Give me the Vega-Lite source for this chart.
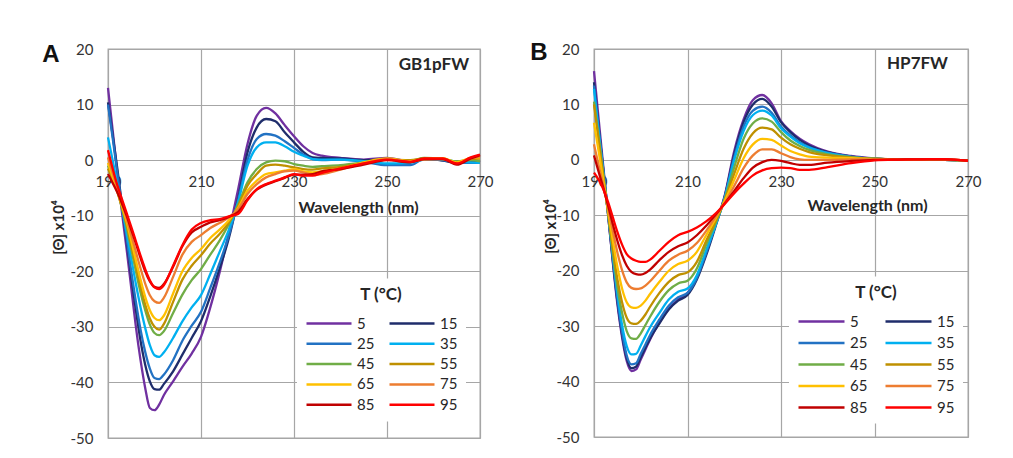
{
"$schema":"https://vega.github.io/schema/vega-lite/v6.json",
"background":"white",
"padding":{"left":41,"top":40,"right":0,"bottom":0},
"config":{"font":"Lato","view":{"stroke":"#a6a6a6","strokeWidth":1.3},"concat":{"spacing":35}},
"resolve":{"scale":{"color":"independent"},"legend":{"color":"independent"}},
"datasets":{
"A":[
{"T":5,"nm":190,"v":13},{"T":5,"nm":191,"v":5.4},{"T":5,"nm":192,"v":-2.2},{"T":5,"nm":193,"v":-9.4},{"T":5,"nm":194,"v":-16},{"T":5,"nm":195,"v":-23},{"T":5,"nm":196,"v":-30},{"T":5,"nm":197,"v":-36},{"T":5,"nm":198,"v":-41},{"T":5,"nm":199,"v":-44.6},{"T":5,"nm":200,"v":-45},{"T":5,"nm":201,"v":-44},{"T":5,"nm":202,"v":-42.3},{"T":5,"nm":204,"v":-39.8},{"T":5,"nm":206,"v":-37.2},{"T":5,"nm":208,"v":-34.8},{"T":5,"nm":210,"v":-31.8},{"T":5,"nm":212,"v":-26.5},{"T":5,"nm":214,"v":-20.2},{"T":5,"nm":216,"v":-13},{"T":5,"nm":218,"v":-5.2},{"T":5,"nm":220,"v":2.9},{"T":5,"nm":222,"v":8},{"T":5,"nm":224,"v":9.4},{"T":5,"nm":226,"v":8.4},{"T":5,"nm":228,"v":6.3},{"T":5,"nm":230,"v":4.3},{"T":5,"nm":232,"v":2.5},{"T":5,"nm":234,"v":1.3},{"T":5,"nm":236,"v":0.8},{"T":5,"nm":240,"v":0.4},{"T":5,"nm":245,"v":0.1},{"T":5,"nm":250,"v":0.4},{"T":5,"nm":255,"v":-0.2},{"T":5,"nm":258,"v":0.3},{"T":5,"nm":262,"v":0},{"T":5,"nm":265,"v":-0.3},{"T":5,"nm":268,"v":-0.1},{"T":5,"nm":270,"v":-0.3},
{"T":15,"nm":190,"v":10.4},{"T":15,"nm":191,"v":4.5},{"T":15,"nm":192,"v":-1.5},{"T":15,"nm":193,"v":-8},{"T":15,"nm":194,"v":-14.5},{"T":15,"nm":195,"v":-21},{"T":15,"nm":196,"v":-27},{"T":15,"nm":197,"v":-32.5},{"T":15,"nm":198,"v":-36.8},{"T":15,"nm":199,"v":-39.8},{"T":15,"nm":200,"v":-41.2},{"T":15,"nm":201,"v":-41.3},{"T":15,"nm":202,"v":-40.3},{"T":15,"nm":204,"v":-38},{"T":15,"nm":206,"v":-35},{"T":15,"nm":208,"v":-32},{"T":15,"nm":210,"v":-29},{"T":15,"nm":212,"v":-24.5},{"T":15,"nm":214,"v":-19.5},{"T":15,"nm":216,"v":-14},{"T":15,"nm":218,"v":-6.8},{"T":15,"nm":220,"v":1.4},{"T":15,"nm":222,"v":5.9},{"T":15,"nm":224,"v":7.4},{"T":15,"nm":226,"v":7},{"T":15,"nm":228,"v":5},{"T":15,"nm":230,"v":3.2},{"T":15,"nm":232,"v":1.5},{"T":15,"nm":234,"v":0.5},{"T":15,"nm":236,"v":0.4},{"T":15,"nm":240,"v":0.3},{"T":15,"nm":245,"v":0},{"T":15,"nm":250,"v":0.1},{"T":15,"nm":255,"v":-0.3},{"T":15,"nm":258,"v":0.3},{"T":15,"nm":262,"v":-0.1},{"T":15,"nm":265,"v":-0.5},{"T":15,"nm":268,"v":-0.2},{"T":15,"nm":270,"v":-0.4},
{"T":25,"nm":190,"v":10},{"T":25,"nm":191,"v":4},{"T":25,"nm":192,"v":-2.3},{"T":25,"nm":193,"v":-8.2},{"T":25,"nm":194,"v":-14},{"T":25,"nm":195,"v":-20},{"T":25,"nm":196,"v":-25.5},{"T":25,"nm":197,"v":-30.5},{"T":25,"nm":198,"v":-34.5},{"T":25,"nm":199,"v":-37.5},{"T":25,"nm":200,"v":-39.2},{"T":25,"nm":201,"v":-39.4},{"T":25,"nm":202,"v":-38.6},{"T":25,"nm":204,"v":-36},{"T":25,"nm":206,"v":-32.5},{"T":25,"nm":208,"v":-29.8},{"T":25,"nm":210,"v":-27.3},{"T":25,"nm":212,"v":-23},{"T":25,"nm":214,"v":-18.5},{"T":25,"nm":216,"v":-13.5},{"T":25,"nm":218,"v":-7.2},{"T":25,"nm":220,"v":0},{"T":25,"nm":222,"v":3.8},{"T":25,"nm":224,"v":4.7},{"T":25,"nm":226,"v":4.4},{"T":25,"nm":228,"v":3.4},{"T":25,"nm":230,"v":2.2},{"T":25,"nm":232,"v":1},{"T":25,"nm":234,"v":0.2},{"T":25,"nm":236,"v":0},{"T":25,"nm":240,"v":0.1},{"T":25,"nm":245,"v":-0.3},{"T":25,"nm":250,"v":-0.9},{"T":25,"nm":255,"v":-0.9},{"T":25,"nm":258,"v":0.2},{"T":25,"nm":262,"v":0},{"T":25,"nm":265,"v":-0.4},{"T":25,"nm":268,"v":-0.5},{"T":25,"nm":270,"v":-0.5},
{"T":35,"nm":190,"v":4.1},{"T":35,"nm":191,"v":0},{"T":35,"nm":192,"v":-4.3},{"T":35,"nm":193,"v":-8.6},{"T":35,"nm":194,"v":-13},{"T":35,"nm":195,"v":-17.7},{"T":35,"nm":196,"v":-22.3},{"T":35,"nm":197,"v":-26.5},{"T":35,"nm":198,"v":-30.2},{"T":35,"nm":199,"v":-33.3},{"T":35,"nm":200,"v":-35.1},{"T":35,"nm":201,"v":-35.4},{"T":35,"nm":202,"v":-34.6},{"T":35,"nm":204,"v":-32},{"T":35,"nm":206,"v":-29},{"T":35,"nm":208,"v":-26.5},{"T":35,"nm":210,"v":-24.3},{"T":35,"nm":212,"v":-20.5},{"T":35,"nm":214,"v":-16.5},{"T":35,"nm":216,"v":-12.5},{"T":35,"nm":218,"v":-7.5},{"T":35,"nm":220,"v":-1},{"T":35,"nm":222,"v":2.3},{"T":35,"nm":224,"v":3.2},{"T":35,"nm":226,"v":3.2},{"T":35,"nm":228,"v":2.5},{"T":35,"nm":230,"v":1.5},{"T":35,"nm":232,"v":0.8},{"T":35,"nm":234,"v":0.2},{"T":35,"nm":236,"v":0.1},{"T":35,"nm":240,"v":0.1},{"T":35,"nm":245,"v":-0.2},{"T":35,"nm":250,"v":-0.6},{"T":35,"nm":255,"v":-0.5},{"T":35,"nm":258,"v":0.1},{"T":35,"nm":262,"v":0.1},{"T":35,"nm":265,"v":-0.3},{"T":35,"nm":268,"v":-0.4},{"T":35,"nm":270,"v":-0.5},
{"T":45,"nm":190,"v":-1},{"T":45,"nm":191,"v":-3.2},{"T":45,"nm":192,"v":-5.5},{"T":45,"nm":193,"v":-8.6},{"T":45,"nm":194,"v":-12},{"T":45,"nm":195,"v":-16},{"T":45,"nm":196,"v":-20},{"T":45,"nm":197,"v":-23.8},{"T":45,"nm":198,"v":-27},{"T":45,"nm":199,"v":-29.6},{"T":45,"nm":200,"v":-31.1},{"T":45,"nm":201,"v":-31.5},{"T":45,"nm":202,"v":-30.8},{"T":45,"nm":204,"v":-27.5},{"T":45,"nm":206,"v":-24.2},{"T":45,"nm":208,"v":-21.6},{"T":45,"nm":210,"v":-19.6},{"T":45,"nm":212,"v":-17},{"T":45,"nm":214,"v":-14.5},{"T":45,"nm":216,"v":-11.5},{"T":45,"nm":218,"v":-8},{"T":45,"nm":220,"v":-4},{"T":45,"nm":222,"v":-1.6},{"T":45,"nm":224,"v":-0.4},{"T":45,"nm":226,"v":-0.1},{"T":45,"nm":228,"v":-0.2},{"T":45,"nm":230,"v":-0.7},{"T":45,"nm":232,"v":-1},{"T":45,"nm":234,"v":-1.2},{"T":45,"nm":236,"v":-1.1},{"T":45,"nm":240,"v":-0.9},{"T":45,"nm":245,"v":-0.4},{"T":45,"nm":250,"v":0.1},{"T":45,"nm":255,"v":-0.1},{"T":45,"nm":258,"v":0.4},{"T":45,"nm":262,"v":0.2},{"T":45,"nm":265,"v":-0.2},{"T":45,"nm":268,"v":0},{"T":45,"nm":270,"v":-0.2},
{"T":55,"nm":190,"v":-1.5},{"T":55,"nm":191,"v":-3.5},{"T":55,"nm":192,"v":-5.7},{"T":55,"nm":193,"v":-8.5},{"T":55,"nm":194,"v":-11.5},{"T":55,"nm":195,"v":-15.2},{"T":55,"nm":196,"v":-19},{"T":55,"nm":197,"v":-22.7},{"T":55,"nm":198,"v":-26},{"T":55,"nm":199,"v":-28.5},{"T":55,"nm":200,"v":-30},{"T":55,"nm":201,"v":-30.5},{"T":55,"nm":202,"v":-29.5},{"T":55,"nm":204,"v":-25.5},{"T":55,"nm":206,"v":-21.5},{"T":55,"nm":208,"v":-19},{"T":55,"nm":210,"v":-17.1},{"T":55,"nm":212,"v":-15},{"T":55,"nm":214,"v":-13.3},{"T":55,"nm":216,"v":-11.2},{"T":55,"nm":218,"v":-8.3},{"T":55,"nm":220,"v":-4.6},{"T":55,"nm":222,"v":-2.5},{"T":55,"nm":224,"v":-1},{"T":55,"nm":226,"v":-0.8},{"T":55,"nm":228,"v":-1},{"T":55,"nm":230,"v":-1.3},{"T":55,"nm":232,"v":-1.6},{"T":55,"nm":234,"v":-1.7},{"T":55,"nm":236,"v":-1.5},{"T":55,"nm":240,"v":-1.2},{"T":55,"nm":245,"v":-0.5},{"T":55,"nm":250,"v":0.1},{"T":55,"nm":255,"v":0},{"T":55,"nm":258,"v":0.3},{"T":55,"nm":262,"v":0.3},{"T":55,"nm":265,"v":-0.5},{"T":55,"nm":268,"v":0.2},{"T":55,"nm":270,"v":0.3},
{"T":65,"nm":190,"v":-0.5},{"T":65,"nm":191,"v":-3},{"T":65,"nm":192,"v":-5.5},{"T":65,"nm":193,"v":-8.2},{"T":65,"nm":194,"v":-11},{"T":65,"nm":195,"v":-14.5},{"T":65,"nm":196,"v":-18},{"T":65,"nm":197,"v":-21.5},{"T":65,"nm":198,"v":-24.6},{"T":65,"nm":199,"v":-27},{"T":65,"nm":200,"v":-28.4},{"T":65,"nm":201,"v":-28.8},{"T":65,"nm":202,"v":-28},{"T":65,"nm":204,"v":-24},{"T":65,"nm":206,"v":-20},{"T":65,"nm":208,"v":-17.6},{"T":65,"nm":210,"v":-16},{"T":65,"nm":212,"v":-14},{"T":65,"nm":214,"v":-12.5},{"T":65,"nm":216,"v":-10.8},{"T":65,"nm":218,"v":-8.6},{"T":65,"nm":220,"v":-5.5},{"T":65,"nm":222,"v":-3.7},{"T":65,"nm":224,"v":-2.5},{"T":65,"nm":226,"v":-2.2},{"T":65,"nm":228,"v":-1.9},{"T":65,"nm":230,"v":-1.6},{"T":65,"nm":232,"v":-2},{"T":65,"nm":234,"v":-2.2},{"T":65,"nm":236,"v":-2},{"T":65,"nm":240,"v":-1.5},{"T":65,"nm":245,"v":-0.4},{"T":65,"nm":250,"v":0.3},{"T":65,"nm":255,"v":-0.2},{"T":65,"nm":258,"v":0.2},{"T":65,"nm":262,"v":0.3},{"T":65,"nm":265,"v":-0.4},{"T":65,"nm":268,"v":0.4},{"T":65,"nm":270,"v":0.5},
{"T":75,"nm":190,"v":0.5},{"T":75,"nm":191,"v":-2.3},{"T":75,"nm":192,"v":-5},{"T":75,"nm":193,"v":-7.7},{"T":75,"nm":194,"v":-10.5},{"T":75,"nm":195,"v":-13.5},{"T":75,"nm":196,"v":-16.5},{"T":75,"nm":197,"v":-19.5},{"T":75,"nm":198,"v":-22.2},{"T":75,"nm":199,"v":-24.3},{"T":75,"nm":200,"v":-25.4},{"T":75,"nm":201,"v":-25.7},{"T":75,"nm":202,"v":-24.8},{"T":75,"nm":204,"v":-21},{"T":75,"nm":206,"v":-17},{"T":75,"nm":208,"v":-14.7},{"T":75,"nm":210,"v":-13.5},{"T":75,"nm":212,"v":-12.2},{"T":75,"nm":214,"v":-11.3},{"T":75,"nm":216,"v":-10.3},{"T":75,"nm":218,"v":-8.8},{"T":75,"nm":220,"v":-6.1},{"T":75,"nm":222,"v":-4.3},{"T":75,"nm":224,"v":-3.1},{"T":75,"nm":226,"v":-2.5},{"T":75,"nm":228,"v":-2},{"T":75,"nm":230,"v":-1.9},{"T":75,"nm":232,"v":-2.2},{"T":75,"nm":234,"v":-2.6},{"T":75,"nm":236,"v":-2.5},{"T":75,"nm":240,"v":-1.7},{"T":75,"nm":245,"v":-0.6},{"T":75,"nm":250,"v":0.2},{"T":75,"nm":255,"v":-0.3},{"T":75,"nm":258,"v":0.1},{"T":75,"nm":262,"v":0.2},{"T":75,"nm":265,"v":-0.6},{"T":75,"nm":268,"v":0.3},{"T":75,"nm":270,"v":0.7},
{"T":85,"nm":190,"v":-2.5},{"T":85,"nm":191,"v":-4.1},{"T":85,"nm":192,"v":-5.8},{"T":85,"nm":193,"v":-7.8},{"T":85,"nm":194,"v":-10},{"T":85,"nm":195,"v":-12.5},{"T":85,"nm":196,"v":-15},{"T":85,"nm":197,"v":-17.6},{"T":85,"nm":198,"v":-20},{"T":85,"nm":199,"v":-21.8},{"T":85,"nm":200,"v":-22.8},{"T":85,"nm":201,"v":-23},{"T":85,"nm":202,"v":-22.3},{"T":85,"nm":204,"v":-19.2},{"T":85,"nm":206,"v":-15.5},{"T":85,"nm":208,"v":-13},{"T":85,"nm":210,"v":-12},{"T":85,"nm":212,"v":-11.2},{"T":85,"nm":214,"v":-10.8},{"T":85,"nm":216,"v":-10.2},{"T":85,"nm":218,"v":-9.3},{"T":85,"nm":220,"v":-7},{"T":85,"nm":222,"v":-5.3},{"T":85,"nm":224,"v":-4.4},{"T":85,"nm":226,"v":-3.8},{"T":85,"nm":228,"v":-3.2},{"T":85,"nm":230,"v":-2.6},{"T":85,"nm":232,"v":-2.6},{"T":85,"nm":234,"v":-2.5},{"T":85,"nm":236,"v":-2},{"T":85,"nm":240,"v":-1.6},{"T":85,"nm":245,"v":-0.8},{"T":85,"nm":250,"v":0},{"T":85,"nm":255,"v":-0.4},{"T":85,"nm":258,"v":0.2},{"T":85,"nm":262,"v":0.2},{"T":85,"nm":265,"v":-0.8},{"T":85,"nm":268,"v":0.3},{"T":85,"nm":270,"v":0.9},
{"T":95,"nm":190,"v":1.8},{"T":95,"nm":191,"v":-1.5},{"T":95,"nm":192,"v":-4.5},{"T":95,"nm":193,"v":-7},{"T":95,"nm":194,"v":-9.5},{"T":95,"nm":195,"v":-12},{"T":95,"nm":196,"v":-14.6},{"T":95,"nm":197,"v":-17.2},{"T":95,"nm":198,"v":-19.6},{"T":95,"nm":199,"v":-21.6},{"T":95,"nm":200,"v":-22.9},{"T":95,"nm":201,"v":-23.2},{"T":95,"nm":202,"v":-22.5},{"T":95,"nm":204,"v":-19},{"T":95,"nm":206,"v":-15.3},{"T":95,"nm":208,"v":-12.5},{"T":95,"nm":210,"v":-11.3},{"T":95,"nm":212,"v":-10.8},{"T":95,"nm":214,"v":-10.6},{"T":95,"nm":216,"v":-10.1},{"T":95,"nm":218,"v":-9.7},{"T":95,"nm":220,"v":-7.2},{"T":95,"nm":222,"v":-5.2},{"T":95,"nm":224,"v":-4.3},{"T":95,"nm":226,"v":-3.7},{"T":95,"nm":228,"v":-3.1},{"T":95,"nm":230,"v":-2.5},{"T":95,"nm":232,"v":-2.8},{"T":95,"nm":234,"v":-2.8},{"T":95,"nm":236,"v":-2.3},{"T":95,"nm":240,"v":-1.5},{"T":95,"nm":245,"v":-0.6},{"T":95,"nm":250,"v":0.1},{"T":95,"nm":255,"v":-0.3},{"T":95,"nm":258,"v":0.3},{"T":95,"nm":262,"v":0.3},{"T":95,"nm":265,"v":-0.6},{"T":95,"nm":268,"v":0.5},{"T":95,"nm":270,"v":1}
],
"B":[
{"T":5,"nm":190,"v":16},{"T":5,"nm":191,"v":7.3},{"T":5,"nm":192,"v":-1.3},{"T":5,"nm":193,"v":-9.8},{"T":5,"nm":194,"v":-18.3},{"T":5,"nm":195,"v":-26},{"T":5,"nm":196,"v":-32},{"T":5,"nm":197,"v":-36.3},{"T":5,"nm":198,"v":-38.1},{"T":5,"nm":199,"v":-37.8},{"T":5,"nm":200,"v":-36},{"T":5,"nm":201,"v":-34.2},{"T":5,"nm":202,"v":-32.4},{"T":5,"nm":204,"v":-29.3},{"T":5,"nm":206,"v":-26.8},{"T":5,"nm":208,"v":-25.2},{"T":5,"nm":210,"v":-24},{"T":5,"nm":212,"v":-21.2},{"T":5,"nm":214,"v":-16.8},{"T":5,"nm":216,"v":-11.7},{"T":5,"nm":218,"v":-6.3},{"T":5,"nm":220,"v":1.6},{"T":5,"nm":222,"v":7.3},{"T":5,"nm":224,"v":10.8},{"T":5,"nm":226,"v":11.7},{"T":5,"nm":228,"v":10.2},{"T":5,"nm":230,"v":7},{"T":5,"nm":232,"v":5.2},{"T":5,"nm":234,"v":3.8},{"T":5,"nm":236,"v":2.8},{"T":5,"nm":240,"v":1.5},{"T":5,"nm":245,"v":0.7},{"T":5,"nm":250,"v":0.25},{"T":5,"nm":255,"v":0.05},{"T":5,"nm":260,"v":0},{"T":5,"nm":265,"v":0},{"T":5,"nm":270,"v":-0.1},
{"T":15,"nm":190,"v":14},{"T":15,"nm":191,"v":5.8},{"T":15,"nm":192,"v":-1.8},{"T":15,"nm":193,"v":-9.8},{"T":15,"nm":194,"v":-18},{"T":15,"nm":195,"v":-25.5},{"T":15,"nm":196,"v":-31.5},{"T":15,"nm":197,"v":-35.8},{"T":15,"nm":198,"v":-37.6},{"T":15,"nm":199,"v":-37.3},{"T":15,"nm":200,"v":-35.6},{"T":15,"nm":201,"v":-33.9},{"T":15,"nm":202,"v":-32.2},{"T":15,"nm":204,"v":-29.5},{"T":15,"nm":206,"v":-27},{"T":15,"nm":208,"v":-25.4},{"T":15,"nm":210,"v":-24.4},{"T":15,"nm":212,"v":-21.6},{"T":15,"nm":214,"v":-17.2},{"T":15,"nm":216,"v":-12},{"T":15,"nm":218,"v":-6.5},{"T":15,"nm":220,"v":1},{"T":15,"nm":222,"v":6.8},{"T":15,"nm":224,"v":10},{"T":15,"nm":226,"v":11},{"T":15,"nm":228,"v":9.6},{"T":15,"nm":230,"v":6.8},{"T":15,"nm":232,"v":5},{"T":15,"nm":234,"v":3.6},{"T":15,"nm":236,"v":2.6},{"T":15,"nm":240,"v":1.4},{"T":15,"nm":245,"v":0.6},{"T":15,"nm":250,"v":0.2},{"T":15,"nm":255,"v":0.05},{"T":15,"nm":260,"v":0},{"T":15,"nm":265,"v":0},{"T":15,"nm":270,"v":-0.1},
{"T":25,"nm":190,"v":13.4},{"T":25,"nm":191,"v":5.5},{"T":25,"nm":192,"v":-2},{"T":25,"nm":193,"v":-9.5},{"T":25,"nm":194,"v":-17.5},{"T":25,"nm":195,"v":-25},{"T":25,"nm":196,"v":-31},{"T":25,"nm":197,"v":-35.3},{"T":25,"nm":198,"v":-36.9},{"T":25,"nm":199,"v":-36.7},{"T":25,"nm":200,"v":-35},{"T":25,"nm":201,"v":-33.3},{"T":25,"nm":202,"v":-31.6},{"T":25,"nm":204,"v":-28.8},{"T":25,"nm":206,"v":-26.3},{"T":25,"nm":208,"v":-24.8},{"T":25,"nm":210,"v":-24},{"T":25,"nm":212,"v":-21.3},{"T":25,"nm":214,"v":-16.8},{"T":25,"nm":216,"v":-11.8},{"T":25,"nm":218,"v":-6.6},{"T":25,"nm":220,"v":0.5},{"T":25,"nm":222,"v":6},{"T":25,"nm":224,"v":8.9},{"T":25,"nm":226,"v":9.6},{"T":25,"nm":228,"v":8.5},{"T":25,"nm":230,"v":6},{"T":25,"nm":232,"v":4.4},{"T":25,"nm":234,"v":3.2},{"T":25,"nm":236,"v":2.3},{"T":25,"nm":240,"v":1.3},{"T":25,"nm":245,"v":0.6},{"T":25,"nm":250,"v":0.2},{"T":25,"nm":255,"v":0.05},{"T":25,"nm":260,"v":0},{"T":25,"nm":265,"v":0},{"T":25,"nm":270,"v":-0.1},
{"T":35,"nm":190,"v":12.8},{"T":35,"nm":191,"v":5},{"T":35,"nm":192,"v":-2.3},{"T":35,"nm":193,"v":-9.5},{"T":35,"nm":194,"v":-17},{"T":35,"nm":195,"v":-24},{"T":35,"nm":196,"v":-29.8},{"T":35,"nm":197,"v":-33.6},{"T":35,"nm":198,"v":-35.1},{"T":35,"nm":199,"v":-35},{"T":35,"nm":200,"v":-33.5},{"T":35,"nm":201,"v":-31.8},{"T":35,"nm":202,"v":-30.2},{"T":35,"nm":204,"v":-27.6},{"T":35,"nm":206,"v":-25.2},{"T":35,"nm":208,"v":-23.8},{"T":35,"nm":210,"v":-23.2},{"T":35,"nm":212,"v":-20.8},{"T":35,"nm":214,"v":-16.3},{"T":35,"nm":216,"v":-11.8},{"T":35,"nm":218,"v":-6.8},{"T":35,"nm":220,"v":0},{"T":35,"nm":222,"v":5.2},{"T":35,"nm":224,"v":8.1},{"T":35,"nm":226,"v":8.9},{"T":35,"nm":228,"v":8},{"T":35,"nm":230,"v":5.7},{"T":35,"nm":232,"v":4.2},{"T":35,"nm":234,"v":3},{"T":35,"nm":236,"v":2.2},{"T":35,"nm":240,"v":1.2},{"T":35,"nm":245,"v":0.5},{"T":35,"nm":250,"v":0.2},{"T":35,"nm":255,"v":0.05},{"T":35,"nm":260,"v":0},{"T":35,"nm":265,"v":0},{"T":35,"nm":270,"v":-0.1},
{"T":45,"nm":190,"v":10.5},{"T":45,"nm":191,"v":4},{"T":45,"nm":192,"v":-2.8},{"T":45,"nm":193,"v":-9.6},{"T":45,"nm":194,"v":-16.5},{"T":45,"nm":195,"v":-22.8},{"T":45,"nm":196,"v":-27.6},{"T":45,"nm":197,"v":-30.9},{"T":45,"nm":198,"v":-32.2},{"T":45,"nm":199,"v":-32.3},{"T":45,"nm":200,"v":-31.3},{"T":45,"nm":201,"v":-29.8},{"T":45,"nm":202,"v":-28.3},{"T":45,"nm":204,"v":-25.6},{"T":45,"nm":206,"v":-23.5},{"T":45,"nm":208,"v":-22.3},{"T":45,"nm":210,"v":-21.8},{"T":45,"nm":212,"v":-19.6},{"T":45,"nm":214,"v":-15.3},{"T":45,"nm":216,"v":-11.4},{"T":45,"nm":218,"v":-7},{"T":45,"nm":220,"v":-1.3},{"T":45,"nm":222,"v":3.8},{"T":45,"nm":224,"v":6.6},{"T":45,"nm":226,"v":7.5},{"T":45,"nm":228,"v":6.9},{"T":45,"nm":230,"v":5},{"T":45,"nm":232,"v":3.5},{"T":45,"nm":234,"v":2.5},{"T":45,"nm":236,"v":1.8},{"T":45,"nm":240,"v":1},{"T":45,"nm":245,"v":0.5},{"T":45,"nm":250,"v":0.2},{"T":45,"nm":255,"v":0.05},{"T":45,"nm":260,"v":0},{"T":45,"nm":265,"v":0},{"T":45,"nm":270,"v":-0.1},
{"T":55,"nm":190,"v":10},{"T":55,"nm":191,"v":3.5},{"T":55,"nm":192,"v":-3},{"T":55,"nm":193,"v":-9.4},{"T":55,"nm":194,"v":-15.8},{"T":55,"nm":195,"v":-21.5},{"T":55,"nm":196,"v":-25.7},{"T":55,"nm":197,"v":-28.5},{"T":55,"nm":198,"v":-29.5},{"T":55,"nm":199,"v":-29.6},{"T":55,"nm":200,"v":-29},{"T":55,"nm":201,"v":-27.9},{"T":55,"nm":202,"v":-26.5},{"T":55,"nm":204,"v":-24},{"T":55,"nm":206,"v":-22},{"T":55,"nm":208,"v":-20.8},{"T":55,"nm":210,"v":-20.3},{"T":55,"nm":212,"v":-18.4},{"T":55,"nm":214,"v":-14.6},{"T":55,"nm":216,"v":-11.1},{"T":55,"nm":218,"v":-7.2},{"T":55,"nm":220,"v":-2.5},{"T":55,"nm":222,"v":2},{"T":55,"nm":224,"v":4.8},{"T":55,"nm":226,"v":5.8},{"T":55,"nm":228,"v":5.5},{"T":55,"nm":230,"v":4},{"T":55,"nm":232,"v":2.8},{"T":55,"nm":234,"v":2},{"T":55,"nm":236,"v":1.4},{"T":55,"nm":240,"v":0.8},{"T":55,"nm":245,"v":0.4},{"T":55,"nm":250,"v":0.2},{"T":55,"nm":255,"v":0.05},{"T":55,"nm":260,"v":0},{"T":55,"nm":265,"v":0},{"T":55,"nm":270,"v":-0.1},
{"T":65,"nm":190,"v":6.7},{"T":65,"nm":191,"v":1.5},{"T":65,"nm":192,"v":-3.8},{"T":65,"nm":193,"v":-9},{"T":65,"nm":194,"v":-14.4},{"T":65,"nm":195,"v":-19.3},{"T":65,"nm":196,"v":-23.2},{"T":65,"nm":197,"v":-25.7},{"T":65,"nm":198,"v":-26.6},{"T":65,"nm":199,"v":-26.7},{"T":65,"nm":200,"v":-26.3},{"T":65,"nm":201,"v":-25.4},{"T":65,"nm":202,"v":-24.2},{"T":65,"nm":204,"v":-22},{"T":65,"nm":206,"v":-20},{"T":65,"nm":208,"v":-18.8},{"T":65,"nm":210,"v":-18.2},{"T":65,"nm":212,"v":-16.6},{"T":65,"nm":214,"v":-13.6},{"T":65,"nm":216,"v":-10.6},{"T":65,"nm":218,"v":-7.4},{"T":65,"nm":220,"v":-3.6},{"T":65,"nm":222,"v":0.3},{"T":65,"nm":224,"v":2.8},{"T":65,"nm":226,"v":3.8},{"T":65,"nm":228,"v":3.6},{"T":65,"nm":230,"v":2.6},{"T":65,"nm":232,"v":1.6},{"T":65,"nm":234,"v":1},{"T":65,"nm":236,"v":0.6},{"T":65,"nm":240,"v":0.4},{"T":65,"nm":245,"v":0.3},{"T":65,"nm":250,"v":0.1},{"T":65,"nm":255,"v":0.05},{"T":65,"nm":260,"v":0},{"T":65,"nm":265,"v":0.05},{"T":65,"nm":270,"v":-0.1},
{"T":75,"nm":190,"v":2.8},{"T":75,"nm":191,"v":-1},{"T":75,"nm":192,"v":-4.6},{"T":75,"nm":193,"v":-8.6},{"T":75,"nm":194,"v":-12.8},{"T":75,"nm":195,"v":-16.7},{"T":75,"nm":196,"v":-19.9},{"T":75,"nm":197,"v":-22.1},{"T":75,"nm":198,"v":-23.1},{"T":75,"nm":199,"v":-23.3},{"T":75,"nm":200,"v":-23.2},{"T":75,"nm":201,"v":-22.7},{"T":75,"nm":202,"v":-21.9},{"T":75,"nm":204,"v":-20},{"T":75,"nm":206,"v":-18.2},{"T":75,"nm":208,"v":-17.1},{"T":75,"nm":210,"v":-16.4},{"T":75,"nm":212,"v":-15},{"T":75,"nm":214,"v":-12.8},{"T":75,"nm":216,"v":-10.3},{"T":75,"nm":218,"v":-7.7},{"T":75,"nm":220,"v":-4.7},{"T":75,"nm":222,"v":-1.5},{"T":75,"nm":224,"v":0.8},{"T":75,"nm":226,"v":1.9},{"T":75,"nm":228,"v":1.9},{"T":75,"nm":230,"v":1.2},{"T":75,"nm":232,"v":0.5},{"T":75,"nm":234,"v":0.1},{"T":75,"nm":236,"v":0},{"T":75,"nm":240,"v":0},{"T":75,"nm":245,"v":0.1},{"T":75,"nm":250,"v":0.1},{"T":75,"nm":255,"v":0.05},{"T":75,"nm":260,"v":0.05},{"T":75,"nm":265,"v":0.05},{"T":75,"nm":270,"v":-0.1},
{"T":85,"nm":190,"v":0.8},{"T":85,"nm":191,"v":-2.2},{"T":85,"nm":192,"v":-5.1},{"T":85,"nm":193,"v":-8.2},{"T":85,"nm":194,"v":-11.5},{"T":85,"nm":195,"v":-14.6},{"T":85,"nm":196,"v":-17.2},{"T":85,"nm":197,"v":-19.1},{"T":85,"nm":198,"v":-20.2},{"T":85,"nm":199,"v":-20.6},{"T":85,"nm":200,"v":-20.7},{"T":85,"nm":201,"v":-20.4},{"T":85,"nm":202,"v":-19.8},{"T":85,"nm":204,"v":-18.1},{"T":85,"nm":206,"v":-16.6},{"T":85,"nm":208,"v":-15.6},{"T":85,"nm":210,"v":-14.9},{"T":85,"nm":212,"v":-13.6},{"T":85,"nm":214,"v":-11.9},{"T":85,"nm":216,"v":-9.9},{"T":85,"nm":218,"v":-7.8},{"T":85,"nm":220,"v":-5.6},{"T":85,"nm":222,"v":-3.3},{"T":85,"nm":224,"v":-1.4},{"T":85,"nm":226,"v":-0.4},{"T":85,"nm":228,"v":0},{"T":85,"nm":230,"v":-0.2},{"T":85,"nm":232,"v":-0.6},{"T":85,"nm":234,"v":-0.9},{"T":85,"nm":236,"v":-0.9},{"T":85,"nm":240,"v":-0.5},{"T":85,"nm":245,"v":-0.2},{"T":85,"nm":250,"v":0},{"T":85,"nm":255,"v":0.05},{"T":85,"nm":260,"v":0.1},{"T":85,"nm":265,"v":0.1},{"T":85,"nm":270,"v":-0.15},
{"T":95,"nm":190,"v":-2.3},{"T":95,"nm":191,"v":-3.6},{"T":95,"nm":192,"v":-5.3},{"T":95,"nm":193,"v":-7.6},{"T":95,"nm":194,"v":-10.3},{"T":95,"nm":195,"v":-13},{"T":95,"nm":196,"v":-15.3},{"T":95,"nm":197,"v":-17},{"T":95,"nm":198,"v":-17.8},{"T":95,"nm":199,"v":-18.2},{"T":95,"nm":200,"v":-18.4},{"T":95,"nm":201,"v":-18.4},{"T":95,"nm":202,"v":-18},{"T":95,"nm":204,"v":-16.4},{"T":95,"nm":206,"v":-14.8},{"T":95,"nm":208,"v":-13.6},{"T":95,"nm":210,"v":-13},{"T":95,"nm":212,"v":-12.2},{"T":95,"nm":214,"v":-11.1},{"T":95,"nm":216,"v":-9.7},{"T":95,"nm":218,"v":-7.9},{"T":95,"nm":220,"v":-6},{"T":95,"nm":222,"v":-4.3},{"T":95,"nm":224,"v":-2.8},{"T":95,"nm":226,"v":-1.9},{"T":95,"nm":228,"v":-1.5},{"T":95,"nm":230,"v":-1.4},{"T":95,"nm":232,"v":-1.5},{"T":95,"nm":234,"v":-1.8},{"T":95,"nm":236,"v":-1.8},{"T":95,"nm":240,"v":-1.3},{"T":95,"nm":245,"v":-0.6},{"T":95,"nm":250,"v":-0.1},{"T":95,"nm":255,"v":0.05},{"T":95,"nm":260,"v":0.1},{"T":95,"nm":265,"v":0.15},{"T":95,"nm":270,"v":-0.2}
]
},
"hconcat":[
{
"width":372,"height":389,
"layer":[
{"data":{"name":"A"},
"mark":{"type":"line","interpolate":"monotone","strokeWidth":2.3},
"encoding":{
"x":{"field":"nm","type":"quantitative","scale":{"domain":[190,270],"nice":false,"zero":false},
"axis":{"values":[190,210,230,250,270],"grid":true,"gridColor":"#a6a6a6","gridWidth":1.2,"ticks":false,"domain":false,"offset":-278,"labelPadding":14,"labelFontSize":15,"labelColor":"#333333","labelFlush":false,"title":"Wavelength (nm)","titleFontSize":16,"titleFontWeight":"bold","titleColor":"#262626","titleX":250,"titleY":47,"titleAlign":"center","titleBaseline":"middle"}},
"y":{"field":"v","type":"quantitative","scale":{"domain":[-50,20],"nice":false,"zero":false},
"axis":{"values":[-50,-40,-30,-20,-10,0,10,20],"grid":true,"gridColor":"#a6a6a6","gridWidth":1.2,"ticks":false,"domain":false,"labelPadding":15,"labelFontSize":15,"labelColor":"#333333","labelExpr":"'' + datum.value","title":"[Θ] x10⁴","titleFontSize":15,"titleFontWeight":"bold","titleColor":"#262626","titleAngle":-90,"titleX":-50,"titleY":178,"titleAlign":"center","titleBaseline":"middle"}},
"color":{"field":"T","type":"nominal","scale":{"domain":[5,15,25,35,45,55,65,75,85,95],"range":["#7030A0","#1F2D6B","#2272C3","#00B0F0","#70AD47","#BF9000","#FFC000","#ED7D31","#C00000","#FF0000"]},
"legend":{"orient":"none","direction":"horizontal","legendX":189,"legendY":229.5,"columns":2,"symbolType":"stroke","symbolSize":2025,"symbolStrokeWidth":2.5,"clipHeight":16,"labelFontSize":15,"labelColor":"#262626","labelOffset":4,"columnPadding":13,"rowPadding":4.3,"title":"T (°C)","titleFontSize":17,"titleFontWeight":"bold","titleColor":"#262626","titleAnchor":"middle","titlePadding":12,"fillColor":"white","padding":8}}
}},
{"data":{"values":[{}]},"mark":{"type":"text","text":"GB1pFW","align":"right","baseline":"middle","dx":-11,"dy":16,"fontSize":17,"fontWeight":"bold","color":"#262626"},
"encoding":{"x":{"datum":270},"y":{"datum":20}}},
{"data":{"values":[{}]},"mark":{"type":"text","text":"A","align":"center","baseline":"middle","dx":-57,"dy":6,"fontSize":24,"fontWeight":"bold","font":"Liberation Sans","color":"#111111"},
"encoding":{"x":{"datum":190},"y":{"datum":20}}}
]
},
{
"width":374,"height":388,
"layer":[
{"data":{"name":"B"},
"mark":{"type":"line","interpolate":"monotone","strokeWidth":2.3},
"encoding":{
"x":{"field":"nm","type":"quantitative","scale":{"domain":[190,270],"nice":false,"zero":false},
"axis":{"values":[190,210,230,250,270],"grid":true,"gridColor":"#a6a6a6","gridWidth":1.2,"ticks":false,"domain":false,"offset":-277,"labelPadding":14,"labelFontSize":15,"labelColor":"#333333","labelFlush":false,"title":"Wavelength (nm)","titleFontSize":16,"titleFontWeight":"bold","titleColor":"#262626","titleX":273,"titleY":45,"titleAlign":"center","titleBaseline":"middle"}},
"y":{"field":"v","type":"quantitative","scale":{"domain":[-50,20],"nice":false,"zero":false},
"axis":{"values":[-50,-40,-30,-20,-10,0,10,20],"grid":true,"gridColor":"#a6a6a6","gridWidth":1.2,"ticks":false,"domain":false,"labelPadding":15,"labelFontSize":15,"labelColor":"#333333","labelExpr":"'' + datum.value","title":"[Θ] x10⁴","titleFontSize":15,"titleFontWeight":"bold","titleColor":"#262626","titleAngle":-90,"titleX":-44,"titleY":177,"titleAlign":"center","titleBaseline":"middle"}},
"color":{"field":"T","type":"nominal","scale":{"domain":[5,15,25,35,45,55,65,75,85,95],"range":["#7030A0","#1F2D6B","#2272C3","#00B0F0","#70AD47","#BF9000","#FFC000","#ED7D31","#C00000","#FF0000"]},
"legend":{"orient":"none","direction":"horizontal","legendX":195,"legendY":227.5,"columns":2,"symbolType":"stroke","symbolSize":2116,"symbolStrokeWidth":2.5,"clipHeight":16,"labelFontSize":15,"labelColor":"#262626","labelOffset":4,"columnPadding":16,"rowPadding":5.5,"title":"T (°C)","titleFontSize":17,"titleFontWeight":"bold","titleColor":"#262626","titleAnchor":"middle","titlePadding":12,"fillColor":"white","padding":8}}
}},
{"data":{"values":[{}]},"mark":{"type":"text","text":"HP7FW","align":"right","baseline":"middle","dx":-20,"dy":15,"fontSize":17,"fontWeight":"bold","color":"#262626"},
"encoding":{"x":{"datum":270},"y":{"datum":20}}},
{"data":{"values":[{}]},"mark":{"type":"text","text":"B","align":"center","baseline":"middle","dx":-55,"dy":4,"fontSize":24,"fontWeight":"bold","font":"Liberation Sans","color":"#111111"},
"encoding":{"x":{"datum":190},"y":{"datum":20}}}
]
}
]
}
